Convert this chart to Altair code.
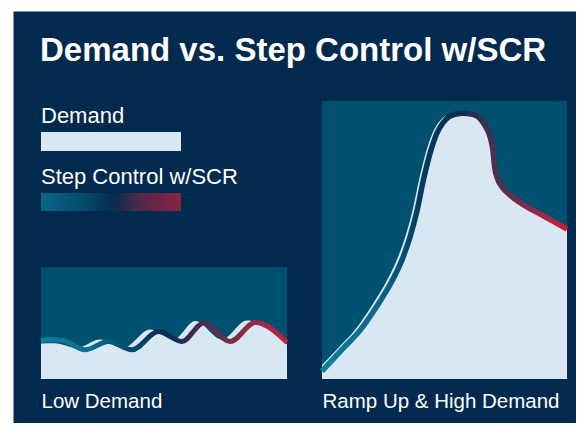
import altair as alt
import pandas as pd

# ---------------- data (0-100 panel units) ----------------
low_step_x = [0, 4, 9, 17.9, 27.4, 36.9, 47.8, 57.3, 66.1, 76.9, 87.1, 100]
low_step_y = [34.1, 35.3, 34.4, 26.1, 33.5, 26.1, 42.4, 33.5, 49.9, 33.5, 50.4, 32.6]
low_demand_x = [0, 5.6, 14.5, 24.0, 33.5, 44.4, 53.9, 62.7, 73.5, 83.7, 100]
low_demand_y = [31.8, 32.0, 27.9, 35.3, 27.9, 44.2, 35.3, 51.7, 35.3, 52.2, 30.8]

high_step_x = [0, 8.7, 15.5, 22.3, 29.2, 33.2, 36.0, 38.7, 41.4, 44.1, 46.9, 49.6, 52.3,
               57.1, 61.9, 64.8, 67.3, 68.8, 69.8, 70.5, 71.5, 73.4, 77.5, 82.3, 89.1, 94.6, 100]
high_step_y = [2.8, 11.1, 17.5, 26.1, 36.3, 44.1, 51.3, 60.2, 71.6, 81.2, 88.4, 92.4, 94.6,
               95.6, 95.1, 93.4, 90.0, 86.6, 82.0, 76.0, 72.4, 69.2, 65.6, 62.6, 59.3, 56.6, 53.9]
high_demand_x = [0, 6.5, 13.3, 20.1, 27.0, 31.1, 34.0, 36.8, 39.6, 42.3, 45.1, 47.9, 50.8,
                 56.0, 61.4, 64.3, 66.8, 68.3, 69.3, 70.0, 71.0, 72.9, 77.0, 81.8, 88.6, 94.1, 100]
high_demand_y = [5.0, 11.1, 17.5, 26.1, 36.3, 44.1, 51.3, 60.2, 71.6, 81.2, 88.4, 92.6, 94.8,
                 95.4, 95.0, 93.3, 89.9, 86.5, 81.9, 75.9, 72.3, 69.1, 65.5, 62.5, 59.2, 56.5, 53.6]

series_names = ["Demand", "Step Control w/SCR"]
panel_labels = ["Low Demand", "Ramp Up & High Demand"]
chart_title = "Demand vs. Step Control w/SCR"

# ---------------- styles ----------------
FONT = "Liberation Sans"
NAVY = "#022a4e"
PANEL = "#00506f"
LIGHT = "#d8e7f1"

VIEW_W = 563
VIEW_H = 412

LOW_STOPS = [(0, "#0c809d"), (0.2, "#0a6d8c"), (0.38, "#03466b"), (0.5, "#0b2b50"),
             (0.62, "#3a2f52"), (0.78, "#7d2c47"), (0.9, "#a8273f"), (1, "#c8203a")]
HIGH_STOPS = [(0, "#0c809d"), (0.25, "#0a6585"), (0.4, "#043d62"), (0.55, "#0d2b50"),
              (0.66, "#3a3053"), (0.75, "#5e2f4c"), (0.88, "#9a2841"), (1, "#c6203a")]
LEG_DOMAIN = [0, 30, 52, 72, 100]
LEG_COLORS = ["#0b809d", "#045b7b", "#0b2b4f", "#76294a", "#c4213a"]

RECT_PATH = "M-1,-0.1357L1,-0.1357L1,0.1357L-1,0.1357Z"


def gradient(stops):
    return alt.Gradient(gradient="linear", x1=0, x2=1, y1=0, y2=0,
                        stops=[alt.GradientStop(offset=o, color=c) for o, c in stops])


fill_legend = alt.Legend(
    title=series_names[0], orient="none", legendX=28, legendY=95, direction="vertical",
    symbolType=RECT_PATH, symbolSize=19600, symbolStrokeWidth=0, clipHeight=19,
    labelExpr="''", titleFontSize=22, titleFont=FONT, titleColor="white",
    titleFontWeight="normal", titlePadding=4, padding=0, titleLimit=400)

color_legend = alt.Legend(
    title=series_names[1], orient="none", legendX=28, legendY=156, direction="horizontal",
    gradientLength=140, gradientThickness=18, gradientStrokeWidth=0,
    labelExpr="''", titleFontSize=22, titleFont=FONT, titleColor="white",
    titleFontWeight="normal", titlePadding=4, padding=0, titleLimit=400)


def panel(step_x, step_y, dem_x, dem_y, xrange, yrange, label, stops, stroke_w, with_color_legend):
    xs = alt.Scale(domain=[0, 100], range=xrange, nice=False, zero=False)
    ys = alt.Scale(domain=[0, 100], range=yrange, nice=False, zero=False)
    ax = alt.Axis(title=label, orient="bottom", offset=368 - VIEW_H, domain=False, ticks=False,
                  labels=False, grid=False, titleAnchor="start", titlePadding=12.5,
                  titleFontSize=20.5, titleColor="white", titleFont=FONT,
                  titleFontWeight="normal")
    step_df = pd.DataFrame({"x": step_x, "y": step_y})
    dem_df = pd.DataFrame({"x": dem_x, "y": dem_y, "series": series_names[0]})

    bg = alt.Chart(pd.DataFrame({"panel": [label]})).mark_rect(color=PANEL).encode(
        x=alt.XDatum(0, type="quantitative", scale=xs, axis=ax),
        x2=alt.X2Datum(100),
        y=alt.YDatum(0, type="quantitative", scale=ys, axis=None),
        y2=alt.Y2Datum(100),
    )
    area = alt.Chart(dem_df).mark_area(interpolate="monotone").encode(
        x=alt.X("x:Q", scale=xs, axis=ax),
        y=alt.Y("y:Q", scale=ys, axis=None, stack=None),
        fill=alt.Fill("series:N", scale=alt.Scale(domain=[series_names[0]], range=[LIGHT]),
                      legend=fill_legend),
    )
    line = alt.Chart(step_df).mark_line(
        stroke=gradient(stops), strokeWidth=stroke_w, interpolate="monotone", strokeCap="butt"
    ).encode(
        x=alt.X("x:Q", scale=xs, axis=ax),
        y=alt.Y("y:Q", scale=ys, axis=None),
    )
    layers = [bg, area, line]
    if with_color_legend:
        pts = alt.Chart(step_df).mark_point(size=0, filled=True, strokeWidth=0).encode(
            x=alt.X("x:Q", scale=xs, axis=ax),
            y=alt.Y("y:Q", scale=ys, axis=None),
            color=alt.Color("x:Q", title=series_names[1],
                            scale=alt.Scale(domain=LEG_DOMAIN, range=LEG_COLORS,
                                            interpolate="rgb"),
                            legend=color_legend),
        )
        layers.append(pts)
    return alt.layer(*layers)


low = panel(low_step_x, low_step_y, low_demand_x, low_demand_y,
            [28, 274], [368, 256], panel_labels[0], LOW_STOPS, 5, True)
high = panel(high_step_x, high_step_y, high_demand_x, high_demand_y,
             [309, 554], [368, 90], panel_labels[1], HIGH_STOPS, 5.5, False)

chart = alt.layer(low, high).resolve_scale(x="independent", y="independent").properties(
    width=VIEW_W,
    height=VIEW_H,
    padding={"left": 5, "top": 3, "right": 0, "bottom": 0},
    autosize=alt.AutoSizeParams(type="none"),
    background="white",
    title=alt.TitleParams(text=chart_title, anchor="start", frame="group", orient="top",
                          offset=0, dx=27, dy=83, baseline="alphabetic", fontSize=33,
                          fontWeight="bold", color="white", font=FONT),
).configure_view(fill=NAVY, stroke="transparent")

chart.save("out.html", embed_options={"renderer": "svg", "actions": False})
